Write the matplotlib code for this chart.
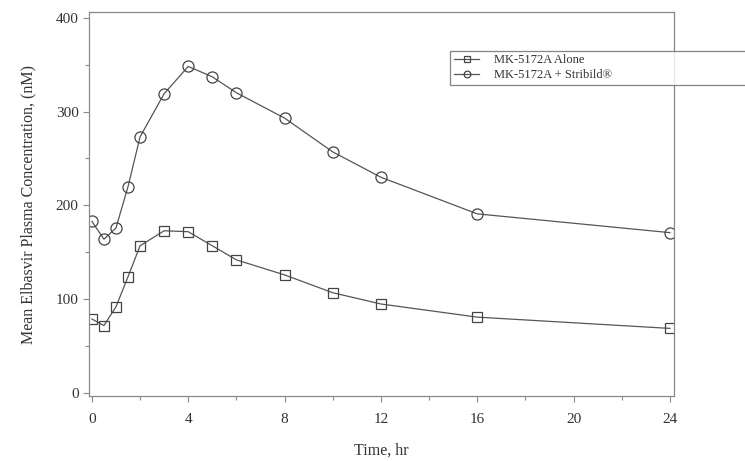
import matplotlib.pyplot as plt

plt.rcParams['font.family'] = ['Liberation Serif', 'DejaVu Serif']

# time points (hr)
hours = [0, 0.5, 1, 1.5, 2, 3, 4, 5, 6, 8, 10, 12, 16, 24]

# mean elbasvir plasma concentration (nM)
alone = [79, 72, 92, 124, 157, 173, 172, 157, 142, 126, 107, 95, 81, 69]
with_stribild = [183, 164, 176, 220, 273, 319, 348, 337, 320, 293, 257, 230, 191, 171]

series_labels = ["MK-5172A Alone", "MK-5172A + Stribild\u00ae"]

x_ticks = [0, 4, 8, 12, 16, 20, 24]
y_ticks = [0, 100, 200, 300, 400]

fig = plt.figure(figsize=(7.45, 4.61), dpi=100)
ax = fig.add_axes([89 / 745, 1 - 396 / 461, (674 - 89) / 745, (396 - 12) / 461])

line_col = '#555555'
ax.plot(hours, alone, color=line_col, lw=0.9, marker='s', ms=7.5,
        mfc='none', mec='#444444', mew=0.9, label=series_labels[0])
ax.plot(hours, with_stribild, color=line_col, lw=0.9, marker='o', ms=8,
        mfc='none', mec='#444444', mew=0.9, label=series_labels[1])

ax.set_xlim(-0.12, 24.17)
ax.set_ylim(-3, 406)
ax.set_xticks(x_ticks)
ax.set_xticks([2, 6, 10, 14, 18, 22], minor=True)
ax.set_yticks(y_ticks)
ax.set_yticks([50, 150, 250, 350], minor=True)

for s in ax.spines.values():
    s.set_color('#888888')
    s.set_linewidth(0.9)
ax.tick_params(which='major', direction='out', length=4, width=0.8, color='#888888',
               labelsize=11, labelcolor='#333333')
ax.tick_params(which='minor', direction='out', length=3, width=0.8, color='#888888')
ax.tick_params(axis='x', pad=8)

ax.set_xlabel("Time, hr", fontsize=11.5, color='#333333', labelpad=12)
ax.set_ylabel("Mean Elbasvir Plasma Concentration, (nM)", fontsize=11.5,
              color='#333333', labelpad=14)

leg = fig.legend(loc='upper left', bbox_to_anchor=(444 / 745, 1 - 49 / 461, 0.5, 0.01),
                 mode='expand', fontsize=9, frameon=True, fancybox=False,
                 handlelength=2.0, handletextpad=1.2, borderpad=0.3,
                 labelspacing=0.2, markerscale=0.6)
leg.get_frame().set_edgecolor('#666666')
leg.get_frame().set_linewidth(0.9)
for t in leg.get_texts():
    t.set_color('#333333')

fig.savefig("out.png", dpi=100)
